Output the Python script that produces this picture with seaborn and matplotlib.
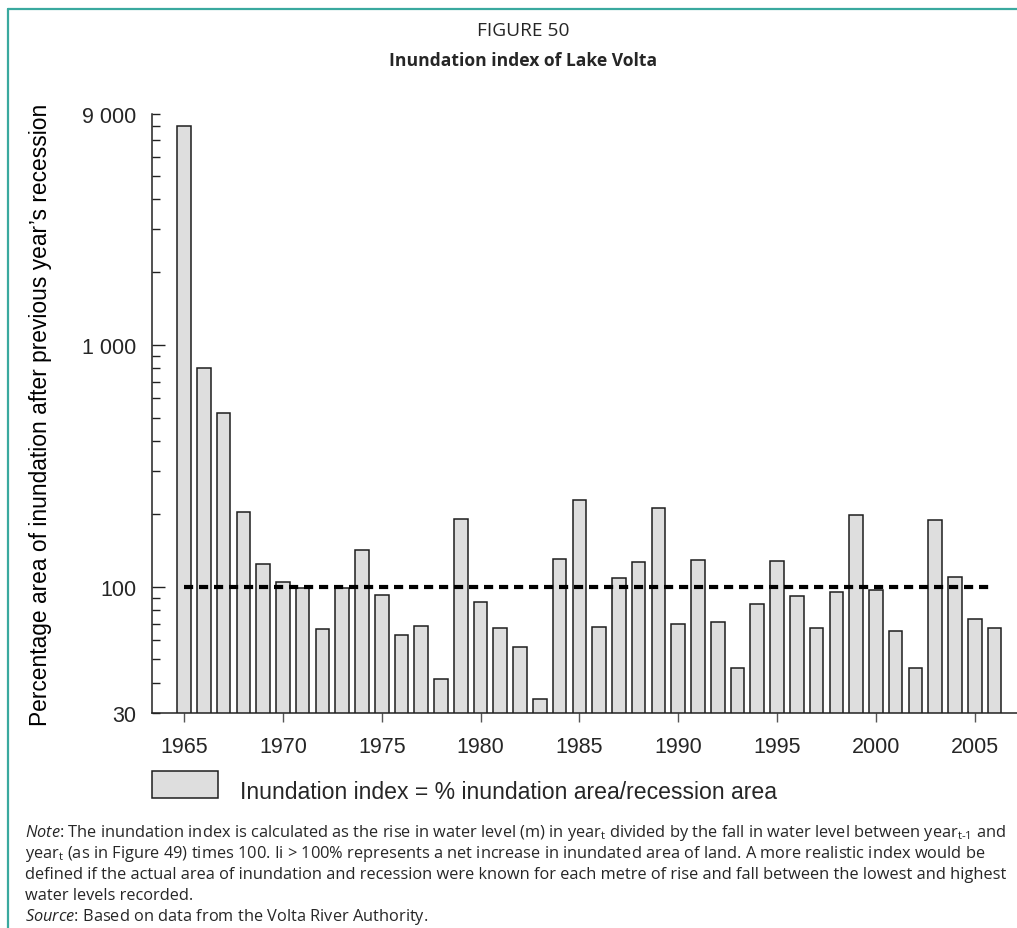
import numpy as np
import pandas as pd
import matplotlib
matplotlib.use("Agg")
import matplotlib.pyplot as plt
import matplotlib.ticker as mticker
from matplotlib.lines import Line2D
from matplotlib.patches import Rectangle
from matplotlib.container import BarContainer
from matplotlib.legend_handler import HandlerPatch, update_from_first_child
import seaborn as sns

# ---- data ----
years = list(range(1965, 2007))
index_values = [
    8050, 803, 520, 204, 124, 104.5, 98.4, 66.7, 98.7, 141,
    92.4, 62.9, 68.6, 41.4, 190, 86.1, 67.5, 56.1, 34.2, 130,
    229, 67.9, 109, 126.5, 211, 70.1, 128.5, 71.2, 46.0, 84.3,
    127, 91.2, 67.3, 94.7, 197, 96.9, 65.6, 46.0, 189, 110,
    73.3, 67.5,
]
reference_value = 100
y_major = [100, 1000]
y_minor = [30, 40, 50, 60, 70, 80, 90, 200, 300, 400, 500, 600, 700, 800, 900,
           2000, 3000, 4000, 5000, 6000, 7000, 8000, 9000]
y_labels = {100: "100", 1000: "1 000", 30: "30", 9000: "9 000"}
x_tick_years = [1965, 1970, 1975, 1980, 1985, 1990, 1995, 2000, 2005]
legend_label = "Inundation index = % inundation area/recession area"
y_title = "Percentage area of inundation after previous year\u2019s recession"

df = pd.DataFrame({"year": years, "index": index_values})

sns.set_theme(style="white")
plt.rcParams["font.family"] = ["Liberation Sans", "DejaVu Sans"]
plt.rcParams["mathtext.fontset"] = "custom"
plt.rcParams["mathtext.rm"] = "Open Sans"
plt.rcParams["mathtext.it"] = "Open Sans:italic"
plt.rcParams["mathtext.bf"] = "Open Sans:bold"

W, H = 1017, 929
fig = plt.figure(figsize=(W / 100, H / 100), dpi=100)
ax = fig.add_axes([152 / W, 1 - 714 / H, (1017 - 152) / W, (714 - 115) / H])

sns.barplot(data=df, x="year", y="index", native_scale=True, width=0.69,
            color="#dedede", edgecolor="#1e1e1e", linewidth=1.1,
            saturation=1, ax=ax, label=legend_label)

ax.hlines(reference_value, years[0], years[-1], colors="black",
          linewidth=3.0, linestyles=(0, (2.2, 1.4)), zorder=5)

ax.set_yscale("log")
ax.set_ylim(30, 9000)
ax.set_xlim(1963.38, 2007.14)

ax.yaxis.set_major_locator(mticker.FixedLocator(y_major))
ax.yaxis.set_minor_locator(mticker.FixedLocator(y_minor))
ax.yaxis.set_major_formatter(mticker.FuncFormatter(lambda v, p: y_labels.get(int(round(v)), "")))
ax.yaxis.set_minor_formatter(mticker.FuncFormatter(lambda v, p: y_labels.get(int(round(v)), "")))
ax.xaxis.set_major_locator(mticker.FixedLocator(x_tick_years))
ax.xaxis.set_major_formatter(mticker.FuncFormatter(lambda v, p: f"{int(round(v))}"))

ax.tick_params(axis="y", which="major", direction="in", length=9, width=1.0,
               color="#222222", labelsize=15.5, pad=11.5, left=True)
ax.tick_params(axis="y", which="minor", direction="in", length=6, width=1.0,
               color="#222222", labelsize=15.5, pad=11.5, left=True)
ax.tick_params(axis="x", which="major", direction="out", length=6.3, width=1.0,
               color="#555555", labelsize=15.5, pad=10, bottom=True)
ax.tick_params(axis="x", which="minor", bottom=False)

for s in ["top", "right"]:
    ax.spines[s].set_visible(False)
for s in ["left", "bottom"]:
    ax.spines[s].set_color("#222222")
    ax.spines[s].set_linewidth(1.1)

ax.set_xlabel("")
ax.set_ylabel(y_title, fontsize=16.4, color="black")
ax.yaxis.set_label_coords(-0.116, 0.5)
ax.grid(False)


# legend: swatch sits on the text baseline and rises ~27 px
def swatch(legend, orig_handle, xdescent, ydescent, width, height, fontsize):
    return Rectangle((-xdescent, -ydescent), width, 19.4)


leg_fs = 16.55
ax.legend(loc="lower left", bbox_to_anchor=(152 / W, 1 - 804 / H),
          bbox_transform=fig.transFigure, frameon=False, fontsize=leg_fs,
          handlelength=2.86, handleheight=0.7, handletextpad=0.95,
          borderpad=0, borderaxespad=0,
          handler_map={BarContainer: HandlerPatch(patch_func=swatch,
                                                  update_func=update_from_first_child)})

# title
fig.text(523 / W, 1 - 31 / H, "FIGURE 50", ha="center", va="center",
         fontsize=13.8, family=["Open Sans", "DejaVu Sans"])
fig.text(523 / W, 1 - 61 / H, "Inundation index of Lake Volta", ha="center",
         va="center", fontsize=12.6, fontweight="bold",
         family=["Open Sans", "DejaVu Sans"])

# notes
note_font = dict(fontsize=11.8, family=["Open Sans", "DejaVu Sans"], va="center", ha="left")
x0 = 25 / W
lines_y = [833, 854, 875, 896, 917]
fig.text(x0, 1 - lines_y[0] / H,
         r"$\it{Note}$: The inundation index is calculated as the rise in water level (m) in year$_\mathregular{t}$ divided by the fall in water level between year$_\mathregular{t\text{-}1}$ and",
         **note_font)
fig.text(x0, 1 - lines_y[1] / H,
         "year$_\\mathregular{t}$ (as in Figure 49) times 100. Ii > 100% represents a net increase in inundated area of land. A more realistic index would be",
         **note_font)
fig.text(x0, 1 - lines_y[2] / H,
         "defined if the actual area of inundation and recession were known for each metre of rise and fall between the lowest and highest",
         **note_font)
fig.text(x0, 1 - lines_y[3] / H, "water levels recorded.", **note_font)
fig.text(x0, 1 - lines_y[4] / H,
         r"$\it{Source}$: Based on data from the Volta River Authority.", **note_font)

# teal frame (left and top edges)
frame_color = "#3aa99f"
fig.add_artist(Line2D([8 / W, 8 / W], [0, 1 - 10 / H], color=frame_color, lw=1.6,
                      transform=fig.transFigure))
fig.add_artist(Line2D([8 / W, 1], [1 - 10 / H, 1 - 10 / H], color=frame_color, lw=1.6,
                      transform=fig.transFigure))

fig.savefig("out.png", dpi=100)
